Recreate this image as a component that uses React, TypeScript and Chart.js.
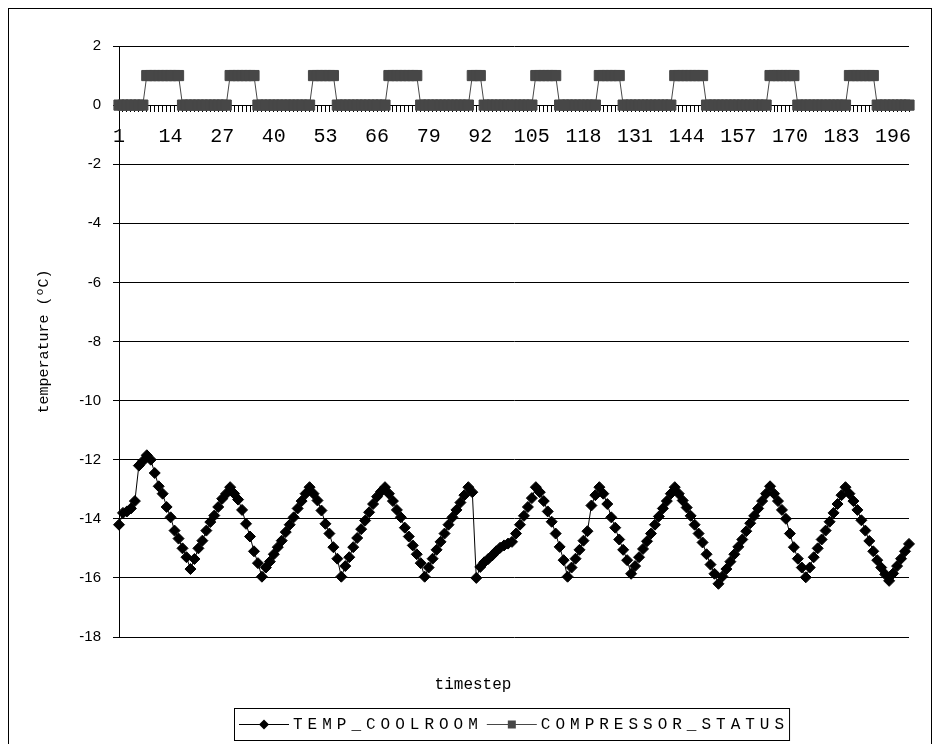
import React, { useEffect, useRef } from 'react';
import { Chart, registerables } from 'chart.js';

Chart.register(...registerables);

const categories: string[] = Array.from({ length: 200 }, (_, i) => String(i + 1));

const shownTickLabels: string[] = [
  '1', '14', '27', '40', '53', '66', '79', '92', '105', '118', '131', '144', '157', '170', '183', '196',
];

const seriesNames: string[] = ['TEMP_COOLROOM', 'COMPRESSOR_STATUS'];

const tempCoolroom: number[] = [
  -14.2, -13.8, -13.75, -13.65, -13.4, -12.2, -12.05, -11.85, -12.0, -12.45,
  -12.9, -13.15, -13.6, -13.95, -14.4, -14.67, -15.0, -15.3, -15.7, -15.36,
  -15.0, -14.74, -14.4, -14.11, -13.89, -13.6, -13.32, -13.15, -12.93, -13.15,
  -13.35, -13.7, -14.17, -14.6, -15.1, -15.5, -15.96, -15.65, -15.45, -15.2,
  -14.96, -14.74, -14.45, -14.2, -13.95, -13.65, -13.4, -13.15, -12.93, -13.15,
  -13.38, -13.72, -14.17, -14.5, -14.96, -15.35, -15.96, -15.6, -15.3, -14.96,
  -14.65, -14.35, -14.06, -13.78, -13.5, -13.25, -13.08, -12.93, -13.15, -13.4,
  -13.7, -13.95, -14.3, -14.6, -14.9, -15.2, -15.5, -15.96, -15.65, -15.35,
  -15.05, -14.78, -14.5, -14.2, -13.95, -13.7, -13.45, -13.2, -12.93, -13.1,
  -16.0, -15.63, -15.47, -15.36, -15.24, -15.1, -14.98, -14.9, -14.84, -14.78,
  -14.5, -14.2, -13.9, -13.6, -13.3, -12.93, -13.1, -13.4, -13.75, -14.1,
  -14.5, -14.95, -15.4, -15.96, -15.65, -15.35, -15.05, -14.74, -14.42, -13.55,
  -13.2, -12.93, -13.15, -13.5, -13.95, -14.3, -14.7, -15.05, -15.4, -15.86,
  -15.6, -15.3, -15.02, -14.76, -14.5, -14.2, -13.92, -13.65, -13.4, -13.15,
  -12.93, -13.15, -13.38, -13.62, -13.9, -14.2, -14.5, -14.8, -15.2, -15.55,
  -15.86, -16.2, -15.95, -15.7, -15.45, -15.2, -14.95, -14.7, -14.42, -14.15,
  -13.9, -13.65, -13.4, -13.15, -12.9, -13.15, -13.4, -13.7, -14.0, -14.5,
  -14.96, -15.35, -15.65, -15.98, -15.65, -15.3, -15.0, -14.7, -14.4, -14.1,
  -13.8, -13.5, -13.2, -12.93, -13.15, -13.4, -13.7, -14.05, -14.4, -14.75,
  -15.1, -15.4, -15.65, -15.88, -16.1, -15.85, -15.6, -15.35, -15.1, -14.85,
];

const compressorStatus: number[] = [
  0, 0, 0, 0, 0, 0, 0, 1, 1, 1, 1, 1, 1, 1, 1, 1, 0, 0, 0, 0,
  0, 0, 0, 0, 0, 0, 0, 0, 1, 1, 1, 1, 1, 1, 1, 0, 0, 0, 0, 0,
  0, 0, 0, 0, 0, 0, 0, 0, 0, 1, 1, 1, 1, 1, 1, 0, 0, 0, 0, 0,
  0, 0, 0, 0, 0, 0, 0, 0, 1, 1, 1, 1, 1, 1, 1, 1, 0, 0, 0, 0,
  0, 0, 0, 0, 0, 0, 0, 0, 0, 1, 1, 1, 0, 0, 0, 0, 0, 0, 0, 0,
  0, 0, 0, 0, 0, 1, 1, 1, 1, 1, 1, 0, 0, 0, 0, 0, 0, 0, 0, 0,
  0, 1, 1, 1, 1, 1, 1, 0, 0, 0, 0, 0, 0, 0, 0, 0, 0, 0, 0, 0,
  1, 1, 1, 1, 1, 1, 1, 1, 0, 0, 0, 0, 0, 0, 0, 0, 0, 0, 0, 0,
  0, 0, 0, 0, 1, 1, 1, 1, 1, 1, 1, 0, 0, 0, 0, 0, 0, 0, 0, 0,
  0, 0, 0, 0, 1, 1, 1, 1, 1, 1, 1, 0, 0, 0, 0, 0, 0, 0, 0, 0,
];

const yMin = -18;
const yMax = 2;
const yStep = 2;

const xTitle = 'timestep';
const yTitle = 'temperature (ºC)';

const TEMP_COLOR = '#000000';
const COMP_COLOR = '#474747';
const MONO = '"Liberation Mono", "Courier New", monospace';
const SANS = '"Liberation Sans", Arial, sans-serif';

function drawSymbol(ctx: CanvasRenderingContext2D, x: number, y: number, w: number, color: string, kind: 'diamond' | 'square') {
  ctx.save();
  ctx.strokeStyle = color;
  ctx.fillStyle = color;
  ctx.lineWidth = 1;
  ctx.beginPath();
  ctx.moveTo(x, y + 0.5);
  ctx.lineTo(x + w, y + 0.5);
  ctx.stroke();
  const cx = x + w / 2;
  ctx.beginPath();
  if (kind === 'diamond') {
    ctx.moveTo(cx - 5, y + 0.5);
    ctx.lineTo(cx, y - 4.5);
    ctx.lineTo(cx + 5, y + 0.5);
    ctx.lineTo(cx, y + 5.5);
    ctx.closePath();
  } else {
    ctx.rect(cx - 4, y - 3.5, 8, 8);
  }
  ctx.fill();
  ctx.restore();
}

const excelDecor = {
  id: 'excelDecor',
  afterDraw(chart: any) {
    const ctx: CanvasRenderingContext2D = chart.ctx;
    ctx.save();
    // x axis title
    ctx.fillStyle = '#000';
    ctx.font = `16px ${MONO}`;
    ctx.textAlign = 'center';
    ctx.textBaseline = 'alphabetic';
    ctx.fillText(xTitle, 464, 680);

    // legend
    ctx.font = `16px ${MONO}`;
    (ctx as any).letterSpacing = '5px';
    const w1 = ctx.measureText(seriesNames[0]).width;
    const w2 = ctx.measureText(seriesNames[1]).width;
    const symW = 50;
    const pad = 5;
    const gap = 4;
    const total = pad + symW + gap + w1 + gap + symW + gap + w2;
    const left = Math.round(503 - total / 2);
    const top = 699;
    const h = 32;
    ctx.fillStyle = '#fff';
    ctx.fillRect(left, top, total, h);
    ctx.strokeStyle = '#000';
    ctx.lineWidth = 1;
    ctx.strokeRect(left + 0.5, top + 0.5, total, h);
    const cy = top + h / 2;
    let x = left + pad;
    drawSymbol(ctx, x, cy, symW, TEMP_COLOR, 'diamond');
    x += symW + gap;
    ctx.fillStyle = '#000';
    ctx.textAlign = 'left';
    ctx.textBaseline = 'middle';
    ctx.fillText(seriesNames[0], x, cy + 1);
    x += w1 + gap;
    drawSymbol(ctx, x, cy, symW, COMP_COLOR, 'square');
    x += symW + gap;
    ctx.fillStyle = '#000';
    ctx.fillText(seriesNames[1], x, cy + 1);
    (ctx as any).letterSpacing = '0px';
    ctx.restore();
  },
};

export default function App() {
  const canvasRef = useRef<HTMLCanvasElement | null>(null);

  useEffect(() => {
    const canvas = canvasRef.current;
    if (!canvas) return;
    const chart = new Chart(canvas, {
      type: 'line',
      data: {
        labels: categories,
        datasets: [
          {
            label: seriesNames[0],
            data: tempCoolroom,
            borderColor: TEMP_COLOR,
            backgroundColor: TEMP_COLOR,
            borderWidth: 1,
            pointStyle: 'rectRot',
            pointRadius: 5.5,
            pointBorderWidth: 1,
            pointBackgroundColor: TEMP_COLOR,
            pointBorderColor: TEMP_COLOR,
            tension: 0,
            fill: false,
          },
          {
            label: seriesNames[1],
            data: compressorStatus,
            borderColor: COMP_COLOR,
            backgroundColor: COMP_COLOR,
            borderWidth: 1,
            pointStyle: 'rect',
            pointRadius: 7.2,
            pointBorderWidth: 1,
            pointBackgroundColor: COMP_COLOR,
            pointBorderColor: COMP_COLOR,
            tension: 0,
            fill: false,
          },
        ],
      },
      options: {
        animation: false,
        responsive: false,
        maintainAspectRatio: false,
        devicePixelRatio: 1,
        events: [],
        layout: { padding: { top: 37, right: 22, left: 0, bottom: 114 } },
        plugins: {
          legend: { display: false },
          tooltip: { enabled: false },
          title: { display: false },
        },
        scales: {
          x: {
            type: 'category',
            position: { y: 0 } as any,
            offset: false,
            grid: {
              display: true,
              drawOnChartArea: false,
              drawTicks: true,
              tickLength: 6,
              color: '#000',
              offset: false,
            },
            border: { display: true, color: '#000', width: 1 },
            ticks: {
              autoSkip: false,
              maxRotation: 0,
              minRotation: 0,
              padding: 14,
              color: '#000',
              font: { family: MONO, size: 20 },
              callback: (_v: any, i: number) =>
                shownTickLabels.includes(categories[i]) ? categories[i] : '',
            },
          },
          y: {
            type: 'linear',
            position: 'left',
            min: yMin,
            max: yMax,
            ticks: {
              stepSize: yStep,
              color: '#000',
              padding: 12,
              font: { family: SANS, size: 15 },
            },
            grid: {
              color: '#000',
              lineWidth: 1,
              drawTicks: true,
              tickLength: 6,
            },
            border: { display: true, color: '#000', width: 1 },
            title: {
              display: true,
              text: yTitle,
              color: '#000',
              font: { family: MONO, size: 15 },
              padding: { top: 26, bottom: 0 },
            },
            afterFit: (s: any) => {
              s.width = 110;
            },
          },
        },
      },
      plugins: [excelDecor],
    });
    return () => {
      chart.destroy();
    };
  }, []);

  return (
    <div
      style={{
        position: 'relative',
        width: 924,
        height: 744,
        border: '1px solid #000',
        boxSizing: 'border-box',
        background: '#fff',
      }}
    >
      <canvas
        ref={canvasRef}
        width={922}
        height={742}
        style={{ display: 'block', width: 922, height: 742 }}
      />
    </div>
  );
}
